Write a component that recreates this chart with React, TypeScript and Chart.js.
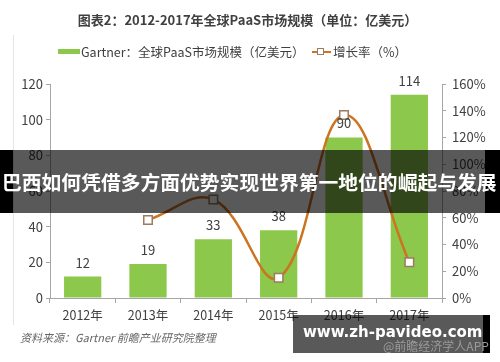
import React, { useEffect, useRef } from "react";
import { Chart, registerables } from "chart.js";

Chart.register(...registerables);

const categories = ["2012年", "2013年", "2014年", "2015年", "2016年", "2017年"];
const marketSize = [12, 19, 33, 38, 90, 114];
const growthRate: (number | null)[] = [null, 58.3, 73.7, 15.2, 136.8, 26.7];
const leftMax = 120;
const rightMax = 160;

const FONT = "'Noto Sans CJK SC', 'Noto Sans', sans-serif";
const TEXT = "#404040";
const AXIS = "#a6a6a6";
const GREEN = "#8cc84b";
const ORANGE = "#cc7420";

const barLabels = {
  id: "barLabels",
  afterDatasetsDraw(chart: any) {
    const ctx = chart.ctx;
    const meta = chart.getDatasetMeta(0);
    ctx.save();
    ctx.font = `13px ${FONT}`;
    ctx.fillStyle = TEXT;
    ctx.textAlign = "center";
    ctx.textBaseline = "middle";
    meta.data.forEach((bar: any, i: number) => {
      ctx.fillText(String(marketSize[i]), bar.x, bar.y - 14);
    });
    ctx.restore();
  },
};

export default function App() {
  const ref = useRef<HTMLCanvasElement | null>(null);
  useEffect(() => {
    if (!ref.current) return;
    const chart = new Chart(ref.current, {
      type: "bar",
      data: {
        labels: categories,
        datasets: [
          {
            type: "bar",
            label: "Gartner：全球PaaS市场规模（亿美元）",
            data: marketSize,
            backgroundColor: GREEN,
            barPercentage: 0.57,
            categoryPercentage: 1,
            yAxisID: "y",
            order: 2,
          },
          {
            type: "line",
            label: "增长率（%）",
            data: growthRate,
            borderColor: ORANGE,
            borderWidth: 2.5,
            tension: 0.4,
            pointStyle: "rect",
            pointRadius: 6,
            pointBackgroundColor: "#ffffff",
            pointBorderColor: "#9c7b5f",
            pointBorderWidth: 1.5,
            yAxisID: "y1",
            order: 1,
          } as any,
        ],
      },
      options: {
        animation: false,
        responsive: false,
        maintainAspectRatio: false,
        layout: { padding: { top: 84, left: 0, right: 0, bottom: 0 } },
        plugins: { legend: { display: false }, title: { display: false }, tooltip: { enabled: false } },
        scales: {
          x: {
            afterFit: (s: any) => { s.height = 64; },
            grid: { drawOnChartArea: false, drawTicks: true, tickLength: 5, color: AXIS, offset: true },
            border: { color: AXIS },
            ticks: { color: TEXT, font: { family: FONT, size: 12.5 }, padding: 5 },
          },
          y: {
            position: "left",
            min: 0,
            max: leftMax,
            afterFit: (s: any) => { s.width = 50; },
            grid: { drawOnChartArea: false, drawTicks: true, tickLength: 4, color: AXIS },
            border: { color: AXIS },
            ticks: { stepSize: 20, color: TEXT, font: { family: FONT, size: 13 }, padding: 3 },
          },
          y1: {
            position: "right",
            min: 0,
            max: rightMax,
            afterFit: (s: any) => { s.width = 58; },
            grid: { drawOnChartArea: false, drawTicks: true, tickLength: 4, color: AXIS },
            border: { color: AXIS },
            ticks: {
              stepSize: 20,
              color: TEXT,
              font: { family: FONT, size: 13 },
              padding: 6,
              callback: (v: any) => v + "%",
            },
          },
        },
      },
      plugins: [barLabels],
    });
    return () => chart.destroy();
  }, []);

  return (
    <div style={{ position: "absolute", left: 0, top: 0, width: 500, height: 362, background: "#fff", overflow: "hidden", fontFamily: FONT }}>
      <div style={{ position: "absolute", left: 13, top: 35, width: 1, height: 290, background: "#e6e6e6" }} />
      <canvas ref={ref} width={500} height={362} style={{ position: "absolute", left: 0, top: 0, width: 500, height: 362 }} />
      <div style={{ position: "absolute", left: 0, top: 10, width: 495, textAlign: "center", fontSize: 13, fontWeight: 700, color: TEXT, lineHeight: "20px" }}>
        图表2：2012-2017年全球PaaS市场规模（单位：亿美元）
      </div>
      <div style={{ position: "absolute", left: 58, top: 49, width: 22, height: 5, background: GREEN }} />
      <div style={{ position: "absolute", left: 81, top: 43, fontSize: 12.5, color: TEXT, lineHeight: "18px", whiteSpace: "nowrap" }}>
        Gartner：全球PaaS市场规模（亿美元）
      </div>
      <div style={{ position: "absolute", left: 312, top: 51, width: 19, height: 2, background: ORANGE }} />
      <div style={{ position: "absolute", left: 317, top: 48, width: 7, height: 7, background: "#fff", border: "1.5px solid #9c7b5f", boxSizing: "border-box" }} />
      <div style={{ position: "absolute", left: 333, top: 43, fontSize: 12.5, color: TEXT, lineHeight: "18px", whiteSpace: "nowrap" }}>
        增长率（%）
      </div>
      <div style={{ position: "absolute", left: 20, top: 329, fontSize: 11, fontStyle: "italic", color: "#666", lineHeight: "16px", whiteSpace: "nowrap" }}>
        资料来源：Gartner 前瞻产业研究院整理
      </div>
      {/* banner */}
      <div style={{ position: "absolute", left: 0, top: 150, width: 13, height: 63, background: "#000" }} />
      <div style={{ position: "absolute", left: 13, top: 150, width: 472, height: 63, background: "rgba(0,0,0,0.65)" }} />
      <div style={{ position: "absolute", left: 485, top: 150, width: 15, height: 63, background: "#000" }} />
      <div style={{ position: "absolute", left: 2, top: 168, width: 500, fontSize: 19.8, fontWeight: 700, color: "#fff", lineHeight: "28px", whiteSpace: "nowrap" }}>
        巴西如何凭借多方面优势实现世界第一地位的崛起与发展
      </div>
      {/* watermark box */}
      <div style={{ position: "absolute", left: 293, top: 315, width: 190, height: 38, background: "rgba(0,0,0,0.65)" }} />
      <div style={{ position: "absolute", left: 483, top: 315, width: 7, height: 38, background: "#000" }} />
      <div style={{ position: "absolute", left: 383, top: 338, fontSize: 12, color: "#9a9a9a", lineHeight: "16px", whiteSpace: "nowrap" }}>
        @前瞻经济学人APP
      </div>
      <div style={{ position: "absolute", left: 303, top: 320, fontFamily: "'DejaVu Sans', sans-serif", fontSize: 15, fontWeight: 700, color: "#fff", lineHeight: "24px", whiteSpace: "nowrap" }}>
        www.zh-pavideo.com
      </div>
    </div>
  );
}
